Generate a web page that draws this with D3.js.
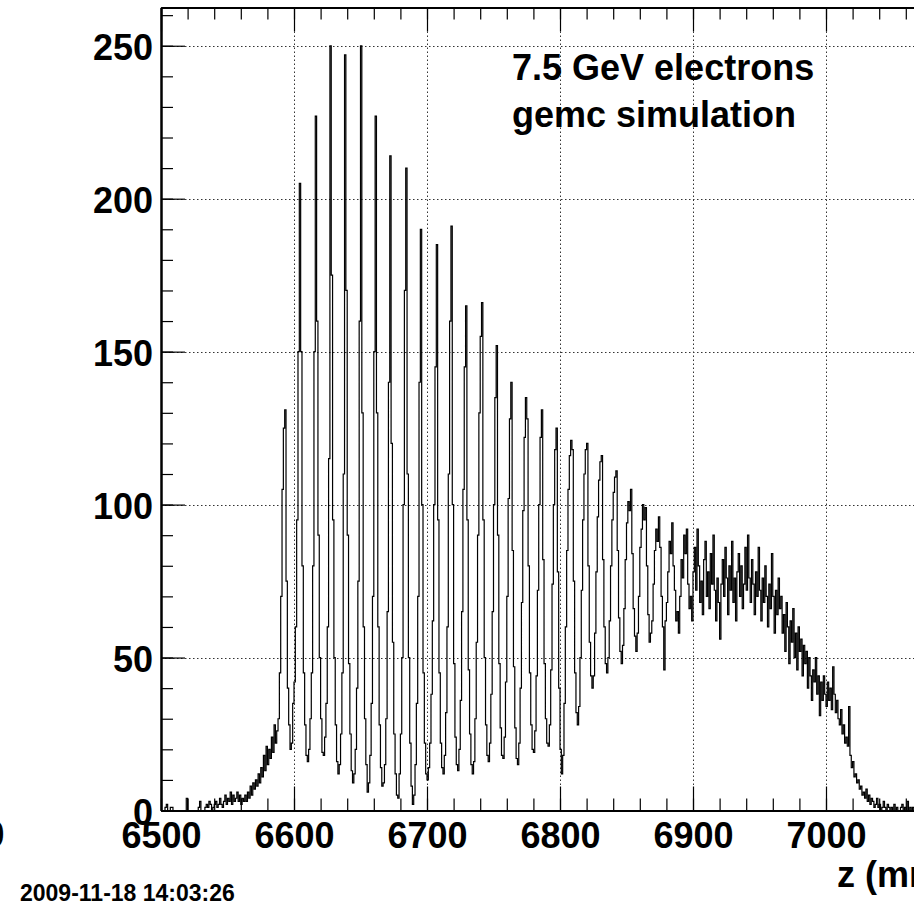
<!DOCTYPE html>
<html>
<head>
<meta charset="utf-8">
<script src="https://cdn.jsdelivr.net/npm/d3@7"></script>
<style>
body { margin: 0; background: #fff; }
svg text { font-family: "Liberation Sans", Arial, Helvetica, sans-serif; font-weight: bold; fill: #000; }
</style>
</head>
<body>
<div id="chart"></div>
<script>
// data: hits per 1 mm bin, first bin starts at z = 6500 mm
const binStart = 6500;
const binWidth = 1;
const counts = [
  0, 0, 0, 1, 2, 0, 0, 1, 1, 0,            // 6500
  0, 0, 0, 0, 0, 0, 0, 0, 0, 4,            // 6510
  0, 0, 0, 0, 0, 0, 0, 0, 1, 3,            // 6520
  0, 0, 0, 1, 2, 1, 3, 2, 0, 1,            // 6530
  2, 3, 1, 2, 4, 2, 1, 3, 5, 2,            // 6540
  4, 3, 6, 2, 5, 3, 4, 6, 3, 5,            // 6550
  2, 4, 3, 5, 3, 6, 4, 8, 5, 9,            // 6560
  7, 10, 8, 12, 9, 14, 11, 18, 13, 21,     // 6570
  15, 20, 17, 24, 19, 28, 22, 26, 30, 45,  // 6580
  70, 105, 125, 131, 75, 40, 28, 20, 22, 35,       // 6590
  42, 60, 95, 150, 205, 150, 80, 45, 28, 18,       // 6600
  16, 20, 30, 45, 80, 150, 227, 160, 90, 50,       // 6610
  30, 19, 18, 24, 35, 60, 115, 250, 175, 95,       // 6620
  50, 28, 16, 12, 15, 25, 45, 110, 247, 170,       // 6630
  90, 48, 25, 13, 9, 12, 20, 40, 75, 160,          // 6640
  250, 130, 60, 30, 15, 6, 9, 18, 35, 70,          // 6650
  150, 227, 130, 60, 28, 14, 8, 9, 15, 30,         // 6660
  65, 140, 214, 120, 55, 25, 12, 5, 4, 12,         // 6670
  25, 50, 100, 170, 210, 110, 50, 22, 8, 2,        // 6680
  5, 15, 35, 70, 140, 190, 100, 45, 22, 12,        // 6690
  10, 14, 22, 38, 62, 100, 145, 185, 95, 45,       // 6700
  22, 14, 12, 18, 32, 60, 110, 160, 191, 100,      // 6710
  48, 24, 15, 13, 20, 36, 65, 105, 145, 165,       // 6720
  95, 46, 25, 15, 12, 16, 30, 55, 90, 130,         // 6730
  155, 166, 95, 50, 28, 18, 16, 22, 38, 65,        // 6740
  100, 135, 152, 90, 48, 27, 18, 17, 24, 42,       // 6750
  70, 102, 128, 140, 85, 47, 27, 17, 15, 22,       // 6760
  40, 68, 98, 122, 135, 128, 80, 45, 28, 20,       // 6770
  19, 26, 44, 72, 100, 122, 131, 82, 48, 30,       // 6780
  22, 21, 28, 46, 74, 100, 118, 125, 78, 40,       // 6790
  20, 12, 18, 35, 60, 85, 105, 116, 121, 118,      // 6800
  75, 45, 32, 28, 34, 50, 72, 95, 110, 118,        // 6810
  120, 80, 55, 44, 40, 44, 58, 78, 96, 108,        // 6820
  114, 116, 82, 60, 48, 45, 50, 62, 80, 95,        // 6830
  104, 109, 111, 85, 63, 52, 48, 54, 66, 82,       // 6840
  94, 101, 98, 105, 84, 66, 57, 52, 58, 70,        // 6850
  86, 92, 100, 95, 99, 80, 64, 55, 58, 62,         // 6860
  74, 85, 92, 88, 96, 86, 70, 60, 46, 62,          // 6870
  68, 78, 88, 84, 94, 80, 72, 62, 65, 58,          // 6880
  70, 82, 76, 90, 84, 92, 74, 66, 70, 62,          // 6890
  78, 86, 72, 92, 80, 68, 75, 64, 82, 88,          // 6900
  70, 78, 66, 84, 74, 90, 72, 62, 76, 68,          // 6910
  56, 74, 82, 70, 86, 76, 64, 80, 72, 88,          // 6920
  68, 76, 62, 78, 84, 70, 80, 66, 74, 86,          // 6930
  72, 90, 76, 68, 82, 74, 64, 78, 70, 86,          // 6940
  72, 62, 76, 68, 80, 70, 60, 74, 66, 84,          // 6950
  70, 58, 72, 64, 76, 66, 70, 58, 64, 52,          // 6960
  68, 60, 48, 62, 55, 66, 50, 58, 46, 60,          // 6970
  52, 56, 44, 54, 48, 52, 40, 50, 44, 36,          // 6980
  46, 42, 50, 38, 44, 31, 42, 36, 44, 38,          // 6990
  34, 42, 36, 40, 33, 47, 38, 32, 36, 30,          // 7000
  28, 33, 25, 28, 22, 24, 21, 34, 18, 14,          // 7010
  16, 11, 12, 9, 10, 7, 8, 5, 6, 4,                // 7020
  7, 3, 5, 2, 4, 3, 1, 2, 4, 1,                    // 7030
  2, 0, 1, 3, 1, 0, 2, 1, 0, 1,                    // 7040
  0, 2, 0, 1, 0, 0, 1, 2, 0, 1,                    // 7050
  0, 3, 0, 1, 0, 1, 0, 0, 0, 0                     // 7060
];

// axis ticks and labels
const xRange = [6500, 7100];
const yRange = [0, 262.5];
const xTicks = [6500, 6600, 6700, 6800, 6900, 7000, 7100];
const xLabels = [6500, 6600, 6700, 6800, 6900, 7000];
const yTicks = [0, 50, 100, 150, 200, 250];
const xMinorStep = 20;
const yMinorStep = 10;
const labelLines = ["7.5 GeV electrons", "gemc simulation"];
const xTitle = "z (mm)";
const dateStamp = "2009-11-18 14:03:26";

// svg container
const svgWidth = 914;
const svgHeight = 904;

// frame of the pad (right side runs off the picture)
const frame = { left: 161, top: 7.5, right: 959, bottom: 810.5 };

const svg = d3.select("#chart").append("svg")
    .attr("width", svgWidth)
    .attr("height", svgHeight);

const xScale = d3.scaleLinear().domain(xRange).range([frame.left, frame.right]);
const yScale = d3.scaleLinear().domain(yRange).range([frame.bottom, frame.top]);

// dotted grid at major ticks
const grid = svg.append("g")
    .attr("stroke", "#333")
    .attr("stroke-width", 1)
    .attr("stroke-dasharray", "1.5,2.5");

grid.selectAll(".vgrid")
    .data(xTicks.filter(d => d > xRange[0]))
    .enter()
    .append("line")
    .attr("x1", d => Math.round(xScale(d)) + 0.5)
    .attr("x2", d => Math.round(xScale(d)) + 0.5)
    .attr("y1", frame.top)
    .attr("y2", frame.bottom);

grid.selectAll(".hgrid")
    .data(yTicks.filter(d => d > yRange[0]))
    .enter()
    .append("line")
    .attr("y1", d => Math.round(yScale(d)) + 0.5)
    .attr("y2", d => Math.round(yScale(d)) + 0.5)
    .attr("x1", frame.left)
    .attr("x2", frame.right);

// histogram as steps
const edges = counts.map((c, i) => [binStart + i * binWidth, c]);
edges.push([binStart + counts.length * binWidth, counts[counts.length - 1]]);

const histLine = d3.line()
    .x(d => xScale(d[0]))
    .y(d => yScale(d[1]))
    .curve(d3.curveStepAfter);

svg.append("path")
    .datum(edges)
    .attr("fill", "none")
    .attr("stroke", "#000")
    .attr("stroke-width", 1.2)
    .attr("d", histLine);

// axes
const xMinor = d3.range(xRange[0], xRange[1] + 1, xMinorStep);
const yMinor = d3.range(yRange[0], 261, yMinorStep);

function styleAxis(g) {
    g.attr("font-size", null).attr("font-family", null);
    g.selectAll(".tick line").attr("stroke", "#000").attr("stroke-width", 1.2);
    g.selectAll(".domain").attr("stroke", "#000").attr("stroke-width", 2);
    g.selectAll("text").attr("font-size", 36);
}

// bottom
svg.append("g")
    .attr("transform", `translate(0, ${frame.bottom})`)
    .call(d3.axisBottom(xScale).tickValues(xMinor).tickSize(-12).tickSizeOuter(0).tickFormat(""))
    .call(styleAxis);
svg.append("g")
    .attr("transform", `translate(0, ${frame.bottom})`)
    .call(d3.axisBottom(xScale).tickValues(xTicks).tickSize(-24).tickSizeOuter(0).tickPadding(11.5)
        .tickFormat(d => xLabels.includes(d) ? d3.format("d")(d) : ""))
    .call(styleAxis);

// top
svg.append("g")
    .attr("transform", `translate(0, ${frame.top})`)
    .call(d3.axisTop(xScale).tickValues(xMinor).tickSize(-12).tickSizeOuter(0).tickFormat(""))
    .call(styleAxis);
svg.append("g")
    .attr("transform", `translate(0, ${frame.top})`)
    .call(d3.axisTop(xScale).tickValues(xTicks).tickSize(-24).tickSizeOuter(0).tickFormat(""))
    .call(styleAxis);

// left
svg.append("g")
    .attr("transform", `translate(${frame.left}, 0)`)
    .call(d3.axisLeft(yScale).tickValues(yMinor).tickSize(-12).tickSizeOuter(0).tickFormat(""))
    .call(styleAxis);
svg.append("g")
    .attr("transform", `translate(${frame.left}, 0)`)
    .call(d3.axisLeft(yScale).tickValues(yTicks).tickSize(-24).tickSizeOuter(0).tickPadding(8).tickFormat(d3.format("d")))
    .call(styleAxis)
    .selectAll("text").attr("dy", "0.38em");

// texts
svg.selectAll(".note")
    .data(labelLines)
    .enter()
    .append("text")
    .attr("x", 512)
    .attr("y", (d, i) => 80 + i * 47)
    .attr("font-size", 36)
    .text(d => d);

svg.append("text")
    .attr("x", 837)
    .attr("y", 887)
    .attr("font-size", 36)
    .text(xTitle);

// label of a neighbouring pad peeking in at the left edge
svg.append("text")
    .attr("x", 4.5)
    .attr("y", 847)
    .attr("text-anchor", "end")
    .attr("font-size", 36)
    .text("0");

svg.append("text")
    .attr("x", 20)
    .attr("y", 901)
    .attr("font-size", 23)
    .text(dateStamp);
</script>
</body>
</html>
